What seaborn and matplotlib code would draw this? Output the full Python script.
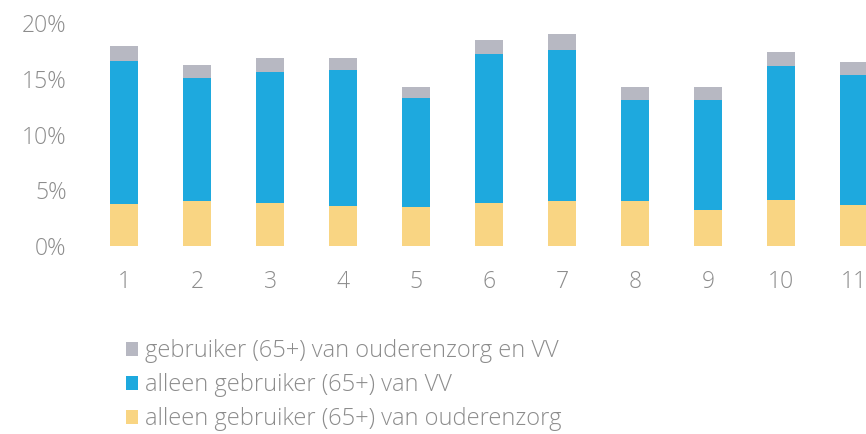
import pandas as pd
import matplotlib.pyplot as plt
import seaborn as sns
from matplotlib.patches import Patch
from matplotlib.ticker import FuncFormatter

sns.set_style('white')
plt.rcParams['font.family'] = ['Open Sans', 'DejaVu Sans']

# data (percentages)
groups = ['1', '2', '3', '4', '5', '6', '7', '8', '9', '10', '11']
only_elderly = [3.8, 4.0, 3.9, 3.6, 3.5, 3.9, 4.0, 4.0, 3.2, 4.1, 3.7]
only_vv = [12.8, 11.1, 11.7, 12.2, 9.8, 13.3, 13.6, 9.1, 9.9, 12.0, 11.6]
both = [1.3, 1.1, 1.3, 1.1, 1.0, 1.3, 1.4, 1.2, 1.2, 1.3, 1.2]

labels = ['gebruiker (65+) van ouderenzorg en VV',
          'alleen gebruiker (65+) van VV',
          'alleen gebruiker (65+) van ouderenzorg']
colors = ['#b7b8c2', '#1ea9de', '#f9d583']

df = pd.DataFrame({'groep': groups, 'elderly': only_elderly, 'vv': only_vv, 'both': both})
df['top_vv'] = df['elderly'] + df['vv']
df['total'] = df['top_vv'] + df['both']

fig = plt.figure(figsize=(8.66, 4.34), dpi=100)
ax = fig.add_axes([75 / 866, 1 - 246 / 434, (866 - 75) / 866, (246 - 23) / 434])

# stacked look: draw cumulative heights on top of each other
for col, c in zip(['total', 'top_vv', 'elderly'], colors):
    sns.barplot(data=df, x='groep', y=col, color=c, width=0.38,
                saturation=1, linewidth=0, ax=ax)

ax.set_ylim(0, 20)
ax.set_xlim(-0.67, 10.16)
ax.set_yticks([0, 5, 10, 15, 20])
ax.yaxis.set_major_formatter(FuncFormatter(lambda v, p: f'{v:.0f}%'))
ax.set_xlabel('')
ax.set_ylabel('')
sns.despine(ax=ax, left=True, bottom=True)
ax.tick_params(axis='both', length=0, labelsize=16.5, labelcolor='#8c8c8c')
ax.tick_params(axis='x', pad=17)
ax.tick_params(axis='y', pad=6)
for t in ax.get_xticklabels() + ax.get_yticklabels():
    t.set_fontweight('light')

handles = [Patch(facecolor=c, edgecolor='none') for c in colors]
leg = fig.legend(handles, labels, loc='upper left', bbox_to_anchor=(117 / 866, 1 - 330 / 434),
                 frameon=False, fontsize=17, handlelength=0.5, handleheight=0.5,
                 handletextpad=0.3, labelspacing=0.42, borderaxespad=0)
for t in leg.get_texts():
    t.set_color('#8c8c8c')
    t.set_fontweight('light')

fig.savefig('out.png', dpi=100)
